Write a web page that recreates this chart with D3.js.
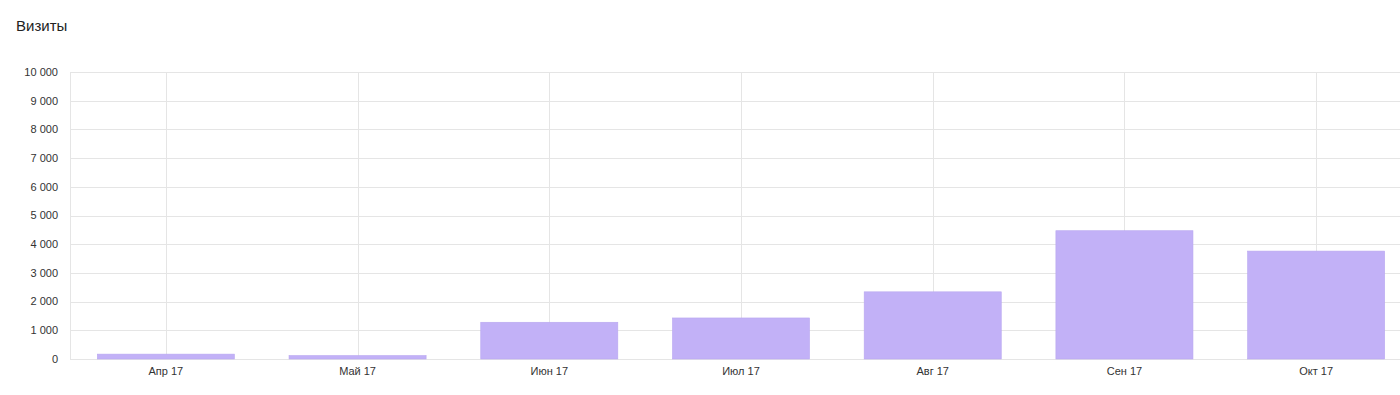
<!DOCTYPE html>
<html>
<head>
<meta charset="utf-8">
<script src="https://cdn.jsdelivr.net/npm/d3@7"></script>
<style>
  body { margin: 0; background: #fff; }
  svg { display: block; font-family: Arial, "Liberation Sans", sans-serif; }
</style>
</head>
<body>
<svg></svg>
<script>
var months = ['Апр 17', 'Май 17', 'Июн 17', 'Июл 17', 'Авг 17', 'Сен 17', 'Окт 17'];
var visits = [170, 120, 1280, 1430, 2340, 4470, 3760];
var yTicks = [0, 1000, 2000, 3000, 4000, 5000, 6000, 7000, 8000, 9000, 10000];

var width = 1400;
var height = 395;
// plot area (the right edge runs past the window, as in the reference)
var plotLeft = 70, plotTop = 72, plotBottom = 359, plotRight = 1412;

var svg = d3.select('svg')
  .attr('width', width)
  .attr('height', height);

var xScale = d3.scaleBand()
  .domain(months)
  .range([plotLeft, plotRight])
  .paddingInner(0.285)
  .paddingOuter(0.1425);

var yScale = d3.scaleLinear()
  .domain([0, 10000])
  .range([plotBottom, plotTop]);

var fmt = function(v) {
  return d3.format(',')(v).replace(/,/g, ' ');
};

// horizontal grid
svg.append('g')
  .selectAll('line')
  .data(yTicks)
  .enter()
  .append('line')
  .attr('x1', plotLeft)
  .attr('x2', width)
  .attr('y1', d => Math.round(yScale(d)) + 0.5)
  .attr('y2', d => Math.round(yScale(d)) + 0.5)
  .attr('stroke', '#e5e5e5');

// vertical grid at category centres
svg.append('g')
  .selectAll('line')
  .data(months)
  .enter()
  .append('line')
  .attr('x1', d => Math.round(xScale(d) + xScale.bandwidth() / 2) + 0.5)
  .attr('x2', d => Math.round(xScale(d) + xScale.bandwidth() / 2) + 0.5)
  .attr('y1', plotTop)
  .attr('y2', plotBottom)
  .attr('stroke', '#e5e5e5');

// left border
svg.append('line')
  .attr('x1', plotLeft + 0.5)
  .attr('x2', plotLeft + 0.5)
  .attr('y1', plotTop)
  .attr('y2', plotBottom)
  .attr('stroke', '#e5e5e5');

// bars
svg.append('g')
  .selectAll('rect')
  .data(visits)
  .enter()
  .append('rect')
  .attr('x', (d, i) => xScale(months[i]))
  .attr('y', d => yScale(d))
  .attr('width', xScale.bandwidth())
  .attr('height', d => plotBottom - yScale(d))
  .attr('fill', '#c2b1f7')
  .attr('stroke', '#b9a7f0')
  .attr('stroke-width', 0.6);

// y labels
svg.append('g')
  .selectAll('text')
  .data(yTicks)
  .enter()
  .append('text')
  .attr('x', 58)
  .attr('y', d => yScale(d))
  .attr('dy', '0.35em')
  .style('text-anchor', 'end')
  .style('font-size', '11px')
  .style('fill', '#333')
  .text(d => fmt(d));

// x labels
svg.append('g')
  .selectAll('text')
  .data(months)
  .enter()
  .append('text')
  .attr('x', d => xScale(d) + xScale.bandwidth() / 2)
  .attr('y', 375)
  .style('text-anchor', 'middle')
  .style('font-size', '11px')
  .style('fill', '#333')
  .text(d => d);

// title
svg.append('text')
  .attr('x', 16)
  .attr('y', 31)
  .style('font-size', '15px')
  .style('fill', '#222')
  .text('Визиты');
</script>
</body>
</html>
